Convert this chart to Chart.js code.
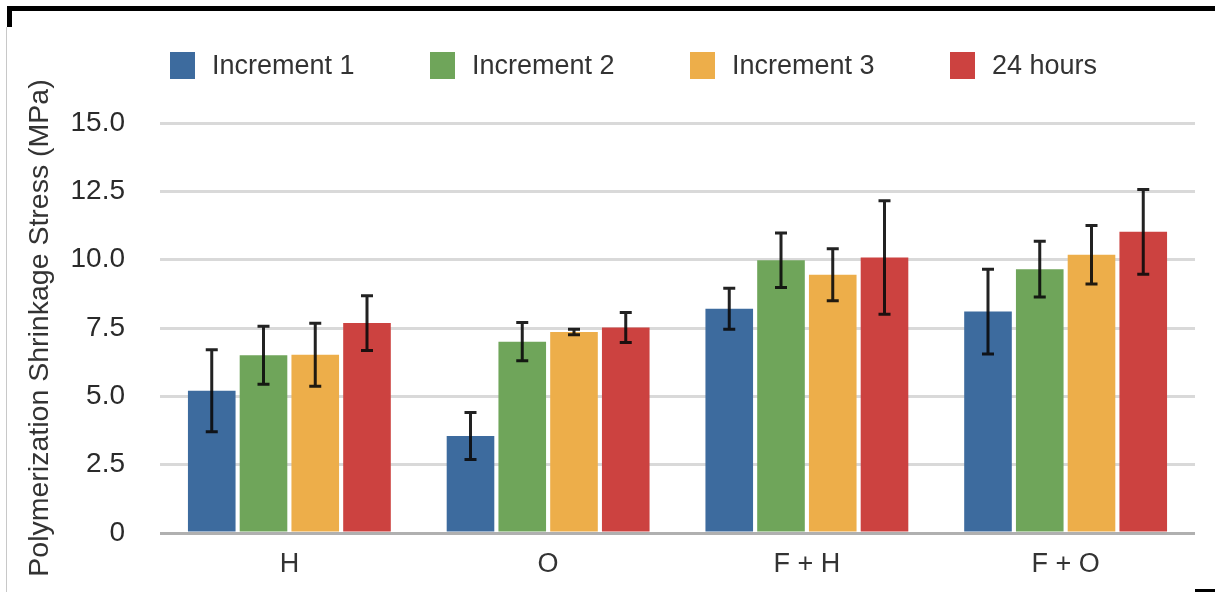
<!DOCTYPE html>
<html lang="en">
<head>
  <meta charset="UTF-8">
  <title>Polymerization Shrinkage Stress</title>
  <script src="https://cdn.jsdelivr.net/npm/chart.js"></script>
  <style>
    body {
      margin: 0;
      background: white;
      font-family: "Liberation Sans", Arial, sans-serif;
    }
    #wrap {
      position: relative;
      width: 1215px;
      height: 592px;
      overflow: hidden;
    }
    #chart {
      position: absolute;
      left: 0;
      top: 0;
    }
    .frame-top { position: absolute; left: 7px; top: 6px; width: 1208px; height: 5px; background: #000; }
    .frame-left { position: absolute; left: 7px; top: 6px; width: 5px; height: 21px; background: #000; }
    .frame-side { position: absolute; left: 6px; top: 27px; width: 1px; height: 565px; background: #c8c8c8; }
    .frame-corner { position: absolute; left: 1195px; top: 589px; width: 20px; height: 3px; background: #000; }
    #legend {
      position: absolute;
      left: 170px;
      top: 50px;
      display: flex;
    }
    .legend-item {
      width: 260px;
      display: flex;
      align-items: center;
      font-size: 27px;
      color: #333;
    }
    .legend-box {
      width: 25px;
      height: 27px;
      margin-right: 17px;
    }
  </style>
</head>
<body>
  <div id="wrap">
    <canvas id="chart" width="1215" height="592"></canvas>
    <div id="legend"></div>
    <div class="frame-top"></div>
    <div class="frame-left"></div>
    <div class="frame-side"></div>
    <div class="frame-corner"></div>
  </div>
  <script>
    const categories = ["H", "O", "F + H", "F + O"];
    const seriesNames = ["Increment 1", "Increment 2", "Increment 3", "24 hours"];
    const seriesColors = ["#3d6b9e", "#6fa55a", "#edae4a", "#cc4240"];

    const increment1 = [5.2, 3.55, 8.2, 8.1];
    const increment2 = [6.5, 7.0, 9.98, 9.65];
    const increment3 = [6.52, 7.35, 9.45, 10.18];
    const hours24 = [7.68, 7.52, 10.08, 11.02];

    const increment1Err = [1.5, 0.86, 0.75, 1.55];
    const increment2Err = [1.06, 0.7, 1.0, 1.02];
    const increment3Err = [1.15, 0.1, 0.95, 1.07];
    const hours24Err = [1.0, 0.55, 2.08, 1.55];

    const yTicks = [0, 2.5, 5, 7.5, 10, 12.5, 15];

    const values = [increment1, increment2, increment3, hours24];
    const errors = [increment1Err, increment2Err, increment3Err, hours24Err];

    // legend built from the series arrays
    const legend = document.getElementById('legend');
    seriesNames.forEach((name, i) => {
      const item = document.createElement('div');
      item.className = 'legend-item';
      const box = document.createElement('span');
      box.className = 'legend-box';
      box.style.background = seriesColors[i];
      const label = document.createElement('span');
      label.textContent = name;
      item.appendChild(box);
      item.appendChild(label);
      legend.appendChild(item);
    });

    const errorBars = {
      id: 'errorBars',
      afterDatasetsDraw(chart) {
        const ctx = chart.ctx;
        const y = chart.scales.y;
        ctx.save();
        ctx.strokeStyle = 'rgba(10, 10, 10, 0.9)';
        ctx.lineWidth = 3;
        chart.data.datasets.forEach((ds, i) => {
          const meta = chart.getDatasetMeta(i);
          meta.data.forEach((bar, j) => {
            const v = ds.data[j];
            const e = ds.errors[j];
            const top = y.getPixelForValue(v + e);
            const bottom = y.getPixelForValue(v - e);
            ctx.beginPath();
            ctx.moveTo(bar.x, top);
            ctx.lineTo(bar.x, bottom);
            ctx.moveTo(bar.x - 6, top);
            ctx.lineTo(bar.x + 6, top);
            ctx.moveTo(bar.x - 6, bottom);
            ctx.lineTo(bar.x + 6, bottom);
            ctx.stroke();
          });
        });
        ctx.restore();
      }
    };

    Chart.defaults.font.family = '"Liberation Sans", Arial, sans-serif';
    Chart.defaults.color = '#333';

    new Chart(document.getElementById('chart').getContext('2d'), {
      type: 'bar',
      data: {
        labels: categories,
        datasets: seriesNames.map((name, i) => ({
          label: name,
          data: values[i],
          errors: errors[i],
          backgroundColor: seriesColors[i],
          categoryPercentage: 0.8,
          barPercentage: 0.92
        }))
      },
      options: {
        responsive: false,
        animation: false,
        layout: {
          padding: { left: 20, right: 20, top: 123, bottom: 10 }
        },
        plugins: {
          legend: { display: false },
          tooltip: { enabled: false }
        },
        scales: {
          x: {
            grid: { display: false, drawTicks: false },
            border: { display: false },
            ticks: { font: { size: 27 }, padding: 15, color: '#333' },
            afterFit(axis) { axis.height = 49; }
          },
          y: {
            min: 0,
            max: 15,
            afterBuildTicks(axis) {
              axis.ticks = yTicks.map(v => ({ value: v }));
            },
            afterFit(axis) { axis.width = 140; },
            grid: {
              drawTicks: false,
              lineWidth: 3,
              color: ctx => ctx.tick && ctx.tick.value === 0 ? '#b0b0b0' : '#d9d9d9'
            },
            border: { display: false },
            ticks: {
              font: { size: 28 },
              padding: 35,
              color: '#2a2a2a',
              callback: v => v === 0 ? '0' : v.toFixed(1)
            },
            title: {
              display: true,
              text: 'Polymerization Shrinkage Stress (MPa)',
              font: { size: 28.5 },
              color: '#333',
              padding: { top: 3, bottom: 10 }
            }
          }
        }
      },
      plugins: [errorBars]
    });
  </script>
</body>
</html>
